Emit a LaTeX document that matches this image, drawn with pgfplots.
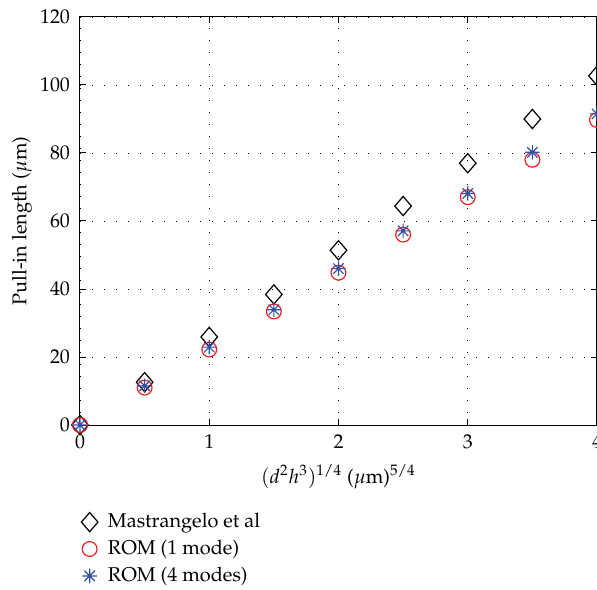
\documentclass[border=0pt]{standalone}
\usepackage[T1]{fontenc}
\usepackage{mathpazo}
\usepackage{pgfplots}
\pgfplotsset{compat=1.18}
\definecolor{mred}{RGB}{240,30,30}
\definecolor{mblue}{RGB}{50,80,165}
\pgfdeclareplotmark{mstar}{%
  \pgfpathmoveto{\pgfqpoint{-\pgfplotmarksize}{0pt}}\pgfpathlineto{\pgfqpoint{\pgfplotmarksize}{0pt}}%
  \pgfpathmoveto{\pgfqpoint{0pt}{-\pgfplotmarksize}}\pgfpathlineto{\pgfqpoint{0pt}{\pgfplotmarksize}}%
  \pgfpathmoveto{\pgfqpoint{-0.72\pgfplotmarksize}{-0.72\pgfplotmarksize}}\pgfpathlineto{\pgfqpoint{0.72\pgfplotmarksize}{0.72\pgfplotmarksize}}%
  \pgfpathmoveto{\pgfqpoint{-0.72\pgfplotmarksize}{0.72\pgfplotmarksize}}\pgfpathlineto{\pgfqpoint{0.72\pgfplotmarksize}{-0.72\pgfplotmarksize}}%
  \pgfusepathqstroke}
\begin{document}
\begin{tikzpicture}
\begin{axis}[name=ax,
  scale only axis, width=258.5bp, height=204bp,
  xmin=0, xmax=4, ymin=0, ymax=120,
  xtick={0,1,2,3,4}, ytick={0,20,40,60,80,100,120},
  tick align=inside, xtick pos=both, ytick pos=both,
  major tick length=3bp,
  tick style={black, line width=0.5bp},
  grid=major,
  major grid style={black, line width=0.45bp, dash pattern=on 0.5bp off 5.5bp},
  axis line style={line width=0.5bp},
  yticklabel style={xshift=-1.5bp},
  xticklabel style={yshift=-1.5bp},
  xlabel={$(d^2h^3)^{1/4}$ ($\mu$m)$^{5/4}$},
  ylabel={Pull-in length ($\mu$m)},
  xlabel style={yshift=-1bp},
  ylabel style={at={(axis description cs:0,0.5)}, anchor=center, yshift=29bp},
  legend style={at={(0,0)}, anchor=north west, xshift=-0.5bp, yshift=-41.5bp, draw=none, fill=none,
    row sep=1.75bp, column sep=3.5bp, inner sep=1bp, nodes={inner sep=1.5bp}},
  legend cell align=left,
]
\addplot[only marks, mark=diamond, mark size=4.8bp, mark options={black, line width=0.6bp, xscale=1.15}] coordinates {
 (0,0) (0.5,12.6) (1,25.9) (1.5,38.4) (2,51.4) (2.5,64.4) (3,77.0) (3.5,90.0) (4,102.7)};
\addlegendentry{Mastrangelo et al}
\addplot[only marks, mark=o, mark size=3.7bp, mark options={mred, line width=0.6bp}] coordinates {
 (0,0) (0.5,11.0) (1,22.2) (1.5,33.4) (2,44.8) (2.5,56.0) (3,67.0) (3.5,78.0) (4,89.7)};
\addlegendentry{ROM (1 mode)}
\addplot[only marks, mark=mstar, mark size=3.6bp, mark options={mblue, line width=0.6bp}] coordinates {
 (0,0) (0.5,11.5) (1,22.9) (1.5,33.9) (2,46.0) (2.5,57.1) (3,68.1) (3.5,80.2) (4,91.5)};
\addlegendentry{ROM (4 modes)}
\end{axis}
\pgfresetboundingbox
\path ([xshift=-40bp,yshift=-82.5bp]ax.south west) rectangle ([yshift=8.5bp]ax.north east);
\end{tikzpicture}
\end{document}
